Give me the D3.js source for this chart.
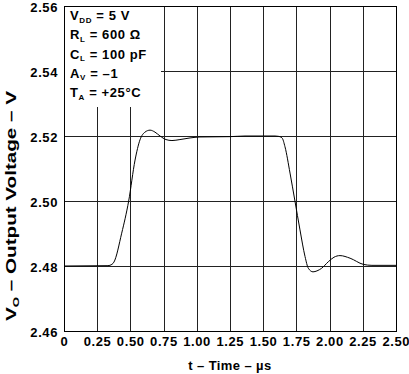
<!DOCTYPE html>
<html><head><meta charset="utf-8">
<script src="https://cdn.jsdelivr.net/npm/d3@7/dist/d3.min.js"></script>
<style>
body{margin:0;background:#fff;}
text{font-family:"Liberation Sans",Arial,Helvetica,sans-serif;font-weight:bold;fill:#000;}
</style></head>
<body><svg id="c" width="409" height="374"></svg>
<script>
const xTicks = [0,0.25,0.5,0.75,1.0,1.25,1.5,1.75,2.0,2.25,2.5];
const xTickLabels = ["0","0.25","0.50","0.75","1.00","1.25","1.50","1.75","2.00","2.25","2.50"];
const yTicks = [2.46,2.48,2.50,2.52,2.54,2.56];
const yTickLabels = ["2.46","2.48","2.50","2.52","2.54","2.56"];
const timeUs = [0,0.331,0.361,0.376,0.4345,0.487,0.535,0.572,0.610,0.648,0.685,0.723,0.768,0.813,0.873,0.949,1.024,1.25,1.363,1.589,1.614,1.642,1.664,1.702,1.739,1.777,1.815,1.840,1.875,1.905,1.940,1.990,2.033,2.078,2.154,2.254,2.319,2.50];
const vout = [2.48,2.4801,2.4805,2.4812,2.4901,2.50,2.5126,2.5188,2.5212,2.5218,2.5212,2.5200,2.5189,2.5186,2.5189,2.5194,2.5197,2.5198,2.5200,2.5200,2.5199,2.5194,2.5167,2.5086,2.50,2.4911,2.4829,2.4793,2.4782,2.4785,2.4793,2.4813,2.4827,2.4832,2.4824,2.4805,2.4802,2.4802];

const svg = d3.select("#c");
const L=64,R=396,T=6,B=331;
const x = d3.scaleLinear().domain([0,2.5]).range([L,R]);
const y = d3.scaleLinear().domain([2.46,2.56]).range([B,T]);

const g = svg.append("g");
// grid
g.selectAll(".vg").data(xTicks.slice(1,-1)).enter().append("line")
 .attr("x1",d=>Math.round(x(d))+0.5).attr("x2",d=>Math.round(x(d))+0.5)
 .attr("y1",T).attr("y2",B).attr("stroke","#222").attr("stroke-width",1);
g.selectAll(".hg").data(yTicks.slice(1,-1)).enter().append("line")
 .attr("y1",d=>Math.round(y(d))+0.5).attr("y2",d=>Math.round(y(d))+0.5)
 .attr("x1",L).attr("x2",R).attr("stroke","#222").attr("stroke-width",1);
// legend white box
g.append("rect").attr("x",L+1).attr("y",T+1).attr("width",96).attr("height",100).attr("fill","#fff");
// frame
g.append("rect").attr("x",L+0.5).attr("y",T+0.5).attr("width",R-L).attr("height",B-T)
 .attr("fill","none").attr("stroke","#000").attr("stroke-width",1);

// curve
const pts = timeUs.map((t,i)=>[t,vout[i]]);
g.append("path").datum(pts)
 .attr("d",d3.line().x(d=>x(d[0])).y(d=>y(d[1])).curve(d3.curveMonotoneX))
 .attr("fill","none").attr("stroke","#000").attr("stroke-width",1);

// axes labels
const fs = 13;
svg.append("g").selectAll("text").data(yTicks).enter().append("text")
 .attr("x",58).attr("y",d=>y(d)+5.5).attr("text-anchor","end")
 .attr("font-size",fs).style("letter-spacing","0.6px")
 .text((d,i)=>yTickLabels[i]);
svg.append("g").selectAll("text").data(xTicks).enter().append("text")
 .attr("x",d=>x(d)+0.3).attr("y",346).attr("text-anchor","middle")
 .attr("font-size",fs).style("letter-spacing","0.6px")
 .text((d,i)=>xTickLabels[i]);

svg.append("text").attr("x",230).attr("y",370).attr("text-anchor","middle")
 .attr("font-size",fs).style("letter-spacing","0.4px").text("t – Time – µs");

const yl = svg.append("text").attr("transform","translate(15.5,206) rotate(-90)")
 .attr("text-anchor","middle").attr("font-size",14)
 .attr("textLength",230).attr("lengthAdjust","spacingAndGlyphs");
yl.append("tspan").text("V");
yl.append("tspan").attr("font-size",9).attr("dy",3).text("O");
yl.append("tspan").attr("dy",-3).text(" – Output Voltage – V");

// legend
const legend = [["V","DD"," = 5 V"],["R","L"," = 600 Ω"],["C","L"," = 100 pF"],["A","V"," = –1"],["T","A"," = +25°C"]];
legend.forEach((l,i)=>{
  const t = svg.append("text").attr("x",70).attr("y",20+i*19.3).attr("font-size",fs).style("letter-spacing","0.6px");
  t.append("tspan").text(l[0]);
  t.append("tspan").attr("font-size",8).attr("dy",2.5).text(l[1]);
  t.append("tspan").attr("dy",-2.5).text(l[2]);
});
</script></body></html>
